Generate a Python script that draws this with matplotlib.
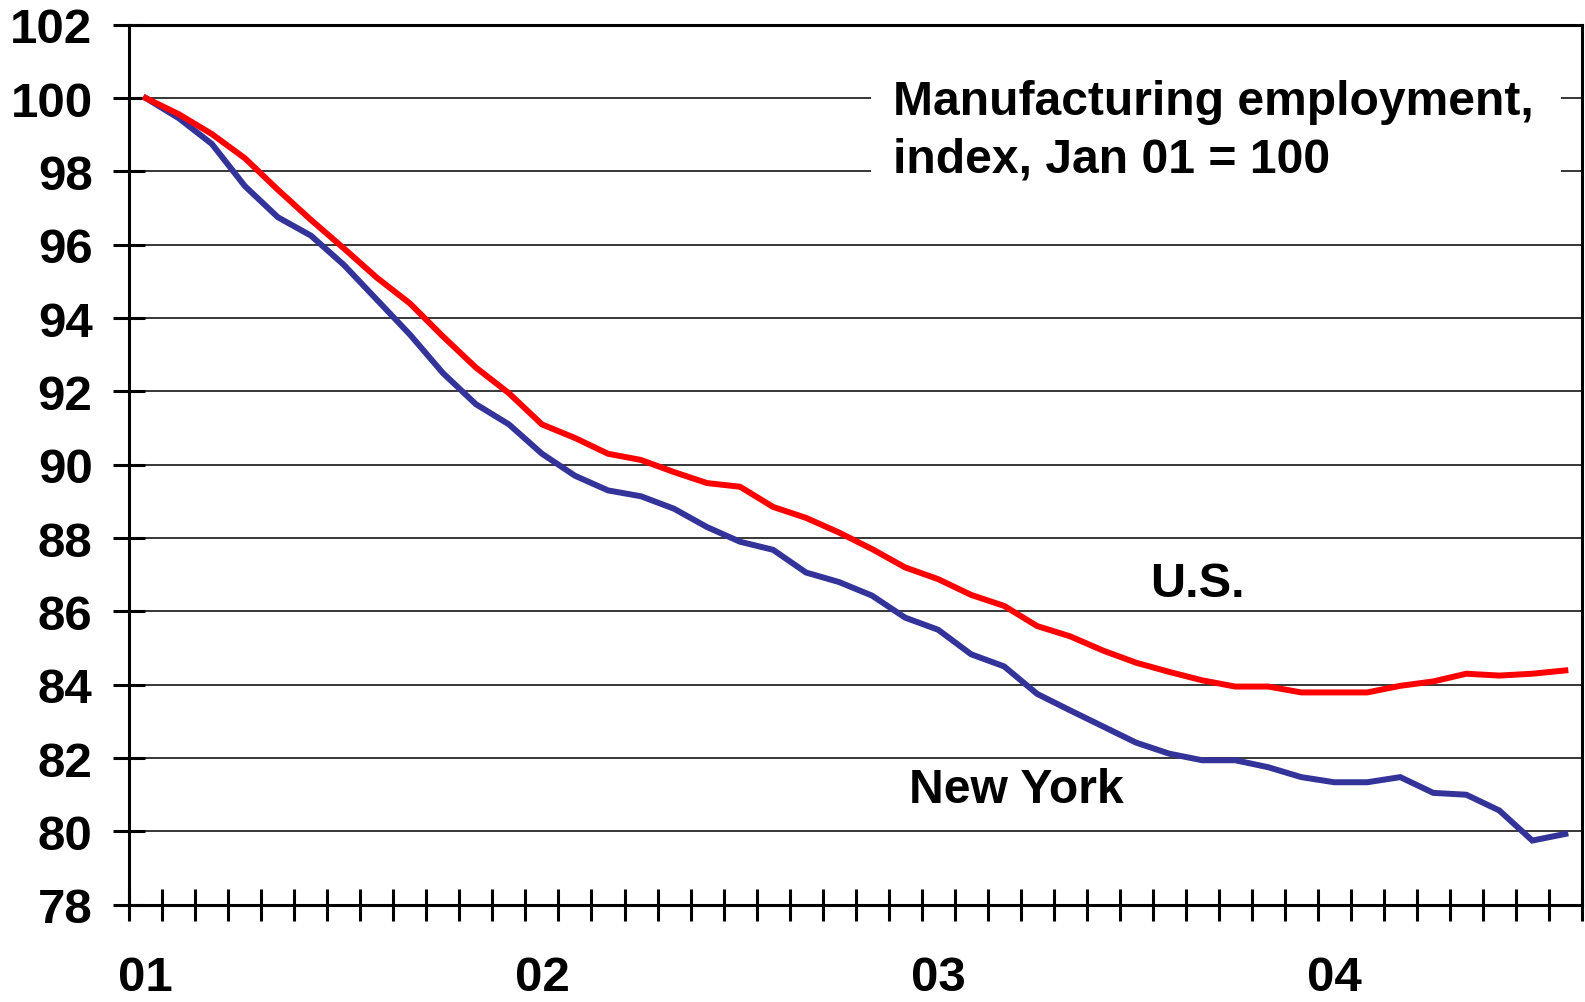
import matplotlib.pyplot as plt
from matplotlib.patches import Rectangle

# Datos: indice de empleo manufacturero, enero 2001 = 100 (mensual, ene 01 - ago 04)
meses = list(range(44))
etiquetas_anio = ['01', '02', '03', '04']
posiciones_anio = [0, 12, 24, 36]

eeuu = [100.0, 99.56, 99.02, 98.36, 97.5, 96.68, 95.9, 95.1, 94.4, 93.5,
        92.65, 91.95, 91.1, 90.73, 90.3, 90.13, 89.8, 89.5, 89.4, 88.85,
        88.55, 88.15, 87.7, 87.2, 86.88, 86.45, 86.15, 85.6, 85.32, 84.93,
        84.6, 84.35, 84.12, 83.95, 83.95, 83.79, 83.79, 83.79, 83.97, 84.09,
        84.3, 84.25, 84.3, 84.39]

nueva_york = [100.0, 99.45, 98.75, 97.6, 96.75, 96.25, 95.45, 94.5, 93.55, 92.5,
              91.65, 91.1, 90.3, 89.7, 89.3, 89.14, 88.8, 88.3, 87.9, 87.68,
              87.06, 86.8, 86.43, 85.83, 85.5, 84.83, 84.5, 83.75, 83.3, 82.86,
              82.42, 82.12, 81.94, 81.94, 81.75, 81.48, 81.34, 81.34, 81.48, 81.05,
              81.0, 80.57, 79.75, 79.93]

plt.rcParams['font.family'] = ['Liberation Sans', 'DejaVu Sans']
plt.rcParams['font.weight'] = 'bold'

fig = plt.figure(figsize=(15.85, 10.03), dpi=100)
ax = fig.add_axes([0.0816, 0.097, 0.9164, 0.8773])

ax.plot(meses, nueva_york, color='#333399', linewidth=4.3, solid_joinstyle='miter', zorder=3)
ax.plot(meses, eeuu, color='#ff0000', linewidth=4.3, solid_joinstyle='miter', zorder=4)

ax.set_xlim(-0.5, 43.5)
ax.set_ylim(78, 102)

# Eje y
ax.set_yticks(range(78, 103, 2))
ax.tick_params(axis='y', direction='inout', length=23, width=2.2, pad=15, labelsize=35.5)
ax.yaxis.grid(True, color='black', linewidth=1.1)
ax.set_axisbelow(True)

# Eje x: marcas entre meses, etiquetas de anio en el centro de enero
ax.set_xticks([m - 0.5 for m in meses] + [43.5])
ax.set_xticklabels([])
ax.set_xticks(posiciones_anio, minor=True)
ax.set_xticklabels(etiquetas_anio, minor=True)
ax.tick_params(axis='x', which='major', direction='inout', length=23, width=2.2)
ax.tick_params(axis='x', which='minor', length=0, pad=36, labelsize=35.5)

for lado in ['left', 'right', 'top', 'bottom']:
    ax.spines[lado].set_linewidth(2.2)

# Caja blanca detras del titulo
ax.add_patch(Rectangle((0.5105, 0.813), 0.4755, 0.148, transform=ax.transAxes,
                       facecolor='white', edgecolor='none', zorder=2))

ax.text(0.526, 0.899, 'Manufacturing employment,', transform=ax.transAxes,
        fontsize=34.6, fontweight='bold', va='baseline', ha='left', zorder=5)
ax.text(0.526, 0.833, 'index, Jan 01 = 100', transform=ax.transAxes,
        fontsize=34.6, fontweight='bold', va='baseline', ha='left', zorder=5)

ax.text(0.7025, 0.351, 'U.S.', transform=ax.transAxes,
        fontsize=35, fontweight='bold', va='baseline', ha='left', zorder=5)
ax.text(0.537, 0.117, 'New York', transform=ax.transAxes,
        fontsize=34.6, fontweight='bold', va='baseline', ha='left', zorder=5)

plt.savefig('out.png', dpi=100)
